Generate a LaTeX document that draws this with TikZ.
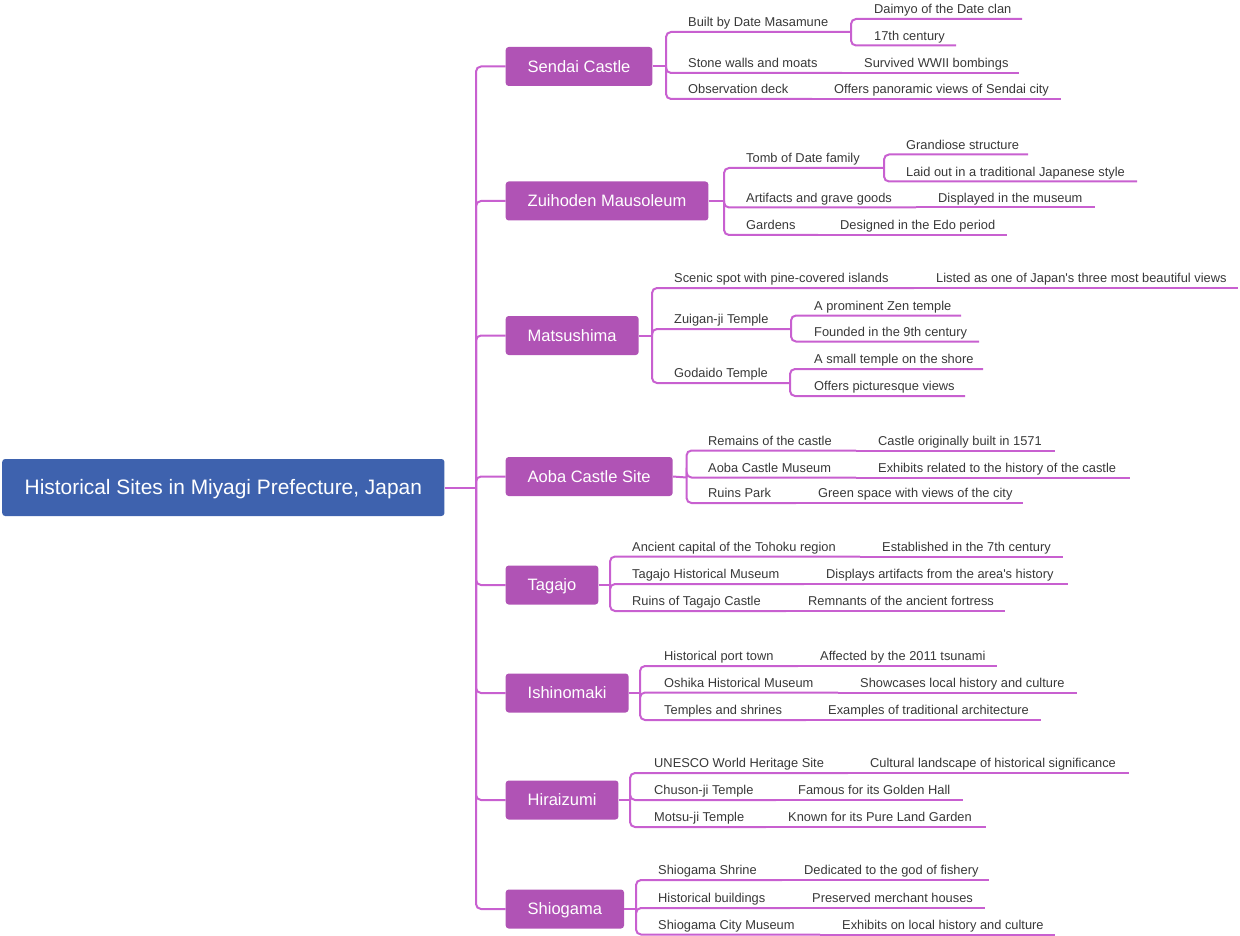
\documentclass[tikz,border=0pt]{standalone}
\usepackage{fontspec}
\setmainfont{Liberation Sans}[Ligatures=TeXOff]
\definecolor{rootc}{HTML}{3E62AE}
\definecolor{topicc}{HTML}{B053B5}
\definecolor{linec}{HTML}{C860D0}
\definecolor{txtc}{HTML}{383838}
\tikzset{
  rootbox/.style={fill=rootc, rounded corners=3pt, text=white, font=\fontsize{20.9}{24}\selectfont, text height=14.96pt, text depth=0pt, minimum height=57pt, inner xsep=22.5pt, inner ysep=0pt},
  topic/.style={fill=topicc, rounded corners=3pt, text=white, font=\fontsize{16.5}{20}\selectfont, text height=11.8pt, text depth=0pt, minimum height=39pt, inner xsep=22pt, inner ysep=0pt},
  lbl/.style={text=txtc, font=\fontsize{12.85}{15}\selectfont, inner sep=0pt},
  conn/.style={draw=linec, line width=2pt, rounded corners=5pt}
}
\newcommand\sub[5]{%
  \coordinate (#1-e) at (#2,#3);
  \node[lbl,anchor=base west] (#1) at (#4,#3-5.2) {#5};}
\begin{document}
\begin{tikzpicture}[x=1pt,y=-1pt]
\useasboundingbox (0,0) rectangle (1240,936);
% root and trunk
\node[rootbox, anchor=west] (root) at (2,487.5) {Historical Sites in Miyagi Prefecture, Japan};
\coordinate (T) at (476,487.5);
\draw[conn] (root.east) -- (T);
\node[topic, anchor=west] (sendai) at (505.5,66.5) {Sendai Castle};
\node[topic, anchor=west] (zui) at (505.5,201) {Zuihoden Mausoleum};
\node[topic, anchor=west] (mat) at (505.5,335.5) {Matsushima};
\node[topic, anchor=west] (aoba) at (505.5,476.5) {Aoba Castle Site};
\node[topic, anchor=west] (taga) at (505.5,585) {Tagajo};
\node[topic, anchor=west] (ishi) at (505.5,693) {Ishinomaki};
\node[topic, anchor=west] (hira) at (505.5,800) {Hiraizumi};
\node[topic, anchor=west] (shio) at (505.5,909) {Shiogama};
\foreach \n in {sendai,zui,mat,aoba,taga,ishi,hira,shio}
  \draw[conn] (T) |- (\n.west);

% Sendai Castle
\coordinate (sendaiB) at (666,66.5);
\draw[conn] (sendai.east) -- (sendaiB);
\sub{s1}{851}{32}{688}{Built by Date Masamune}
\sub{s1a}{1022}{19}{874}{Daimyo of the Date clan}
\sub{s1b}{956}{45.5}{874}{17th century}
\sub{s2}{842}{73}{688}{Stone walls and moats}
\sub{s2a}{1019}{73}{864}{Survived WWII bombings}
\sub{s3}{812}{99}{688}{Observation deck}
\sub{s3a}{1061}{99}{834}{Offers panoramic views of Sendai city}
\foreach \c in {s1,s2,s3} \draw[conn] (sendaiB) |- (\c-e);
\foreach \c in {s1a,s1b} \draw[conn] (s1-e) |- (\c-e);
\draw[conn] (s2-e) -- (s2a-e);
\draw[conn] (s3-e) -- (s3a-e);

% Zuihoden Mausoleum
\coordinate (zuiB) at (724,201);
\draw[conn] (zui.east) -- (zuiB);
\sub{z1}{884}{168}{746}{Tomb of Date family}
\sub{z1a}{1028}{154.5}{906}{Grandiose structure}
\sub{z1b}{1137}{181.5}{906}{Laid out in a traditional Japanese style}
\sub{z2}{916}{207.5}{746}{Artifacts and grave goods}
\sub{z2a}{1095}{207.5}{938}{Displayed in the museum}
\sub{z3}{818}{235}{746}{Gardens}
\sub{z3a}{1007}{235}{840}{Designed in the Edo period}
\foreach \c in {z1,z2,z3} \draw[conn] (zuiB) |- (\c-e);
\foreach \c in {z1a,z1b} \draw[conn] (z1-e) |- (\c-e);
\draw[conn] (z2-e) -- (z2a-e);
\draw[conn] (z3-e) -- (z3a-e);

% Matsushima
\coordinate (matB) at (652,335.5);
\draw[conn] (mat.east) -- (matB);
\sub{m1}{914}{288}{674}{Scenic spot with pine-covered islands}
\sub{m1a}{1238}{288}{936}{Listed as one of Japan's three most beautiful views}
\sub{m2}{791}{329}{674}{Zuigan-ji Temple}
\sub{m2a}{961}{315.5}{814}{A prominent Zen temple}
\sub{m2b}{979}{341.5}{814}{Founded in the 9th century}
\sub{m3}{790}{383}{674}{Godaido Temple}
\sub{m3a}{983}{369}{814}{A small temple on the shore}
\sub{m3b}{965}{396}{814}{Offers picturesque views}
\foreach \c in {m1,m2,m3} \draw[conn] (matB) |- (\c-e);
\draw[conn] (m1-e) -- (m1a-e);
\foreach \c in {m2a,m2b} \draw[conn] (m2-e) |- (\c-e);
\foreach \c in {m3a,m3b} \draw[conn] (m3-e) |- (\c-e);

% Aoba Castle Site
\coordinate (aobaB) at (686.5,477.5);
\draw[conn] (aoba.east) -- (aobaB);
\sub{a1}{856}{450.5}{708}{Remains of the castle}
\sub{a1a}{1055}{450.5}{878}{Castle originally built in 1571}
\sub{a2}{856}{477.5}{708}{Aoba Castle Museum}
\sub{a2a}{1130}{477.5}{878}{Exhibits related to the history of the castle}
\sub{a3}{796}{503}{708}{Ruins Park}
\sub{a3a}{1023}{503}{818}{Green space with views of the city}
\foreach \c in {a1,a2,a3} \draw[conn] (aobaB) |- (\c-e);
\foreach \c in {1,2,3} \draw[conn] (a\c-e) -- (a\c a-e);

% Tagajo
\coordinate (tagaB) at (610,585);
\draw[conn] (taga.east) -- (tagaB);
\sub{t1}{860}{556.5}{632}{Ancient capital of the Tohoku region}
\sub{t1a}{1063}{556.5}{882}{Established in the 7th century}
\sub{t2}{804}{584}{632}{Tagajo Historical Museum}
\sub{t2a}{1068}{584}{826}{Displays artifacts from the area's history}
\sub{t3}{786}{611}{632}{Ruins of Tagajo Castle}
\sub{t3a}{1005}{611}{808}{Remnants of the ancient fortress}
\foreach \c in {t1,t2,t3} \draw[conn] (tagaB) |- (\c-e);
\foreach \c in {1,2,3} \draw[conn] (t\c-e) -- (t\c a-e);

% Ishinomaki
\coordinate (ishiB) at (640,693);
\draw[conn] (ishi.east) -- (ishiB);
\sub{i1}{798}{666}{664}{Historical port town}
\sub{i1a}{997}{666}{820}{Affected by the 2011 tsunami}
\sub{i2}{838}{692.5}{664}{Oshika Historical Museum}
\sub{i2a}{1077}{692.5}{860}{Showcases local history and culture}
\sub{i3}{806}{720}{664}{Temples and shrines}
\sub{i3a}{1041}{720}{828}{Examples of traditional architecture}
\foreach \c in {i1,i2,i3} \draw[conn] (ishiB) |- (\c-e);
\foreach \c in {1,2,3} \draw[conn] (i\c-e) -- (i\c a-e);

% Hiraizumi
\coordinate (hiraB) at (630,800);
\draw[conn] (hira.east) -- (hiraB);
\sub{h1}{848}{773}{654}{UNESCO World Heritage Site}
\sub{h1a}{1129}{773}{870}{Cultural landscape of historical significance}
\sub{h2}{776}{800}{654}{Chuson-ji Temple}
\sub{h2a}{963}{800}{798}{Famous for its Golden Hall}
\sub{h3}{766}{827}{654}{Motsu-ji Temple}
\sub{h3a}{986}{827}{788}{Known for its Pure Land Garden}
\foreach \c in {h1,h2,h3} \draw[conn] (hiraB) |- (\c-e);
\foreach \c in {1,2,3} \draw[conn] (h\c-e) -- (h\c a-e);

% Shiogama
\coordinate (shioB) at (636,909);
\draw[conn] (shio.east) -- (shioB);
\sub{g1}{782}{880}{658}{Shiogama Shrine}
\sub{g1a}{989}{880}{804}{Dedicated to the god of fishery}
\sub{g2}{790}{908}{658}{Historical buildings}
\sub{g2a}{985}{908}{812}{Preserved merchant houses}
\sub{g3}{820}{934.5}{658}{Shiogama City Museum}
\sub{g3a}{1055}{934.5}{842}{Exhibits on local history and culture}
\foreach \c in {g1,g2,g3} \draw[conn] (shioB) |- (\c-e);
\foreach \c in {1,2,3} \draw[conn] (g\c-e) -- (g\c a-e);
\end{tikzpicture}
\end{document}
